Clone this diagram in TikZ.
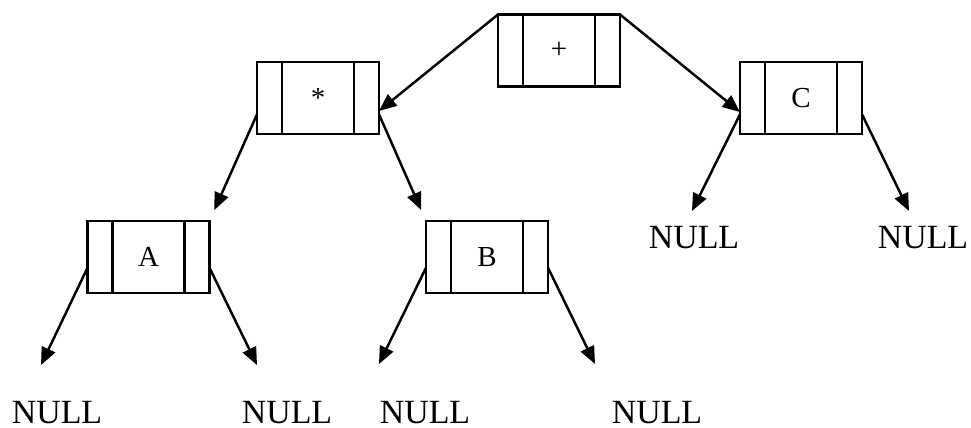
\documentclass[tikz,border=0pt]{standalone}
\usepackage{fontspec}
\setmainfont{Liberation Serif}
\usetikzlibrary{arrows.meta,calc}

\begin{document}
\begin{tikzpicture}[x=0.02cm, y=-0.02cm,
  cell/.style={rectangle, draw, line width=1.2pt, minimum width=2.44cm, minimum height=1.44cm, inner sep=0pt, outer sep=0pt, font=\fontsize{16.5}{18}\selectfont},
  ptr/.style={line width=1.4pt, -{Triangle[length=0.35cm, width=0.29cm]}},
  nil/.style={anchor=base, inner sep=0pt, font=\fontsize{19.3}{22}\selectfont}]
\useasboundingbox (0,0) rectangle (971,427);

% tree nodes
\node[cell] (add) at (559,50.5) {+};
\node[cell] (mul) at (318,98) {*};
\node[cell] (c) at (801,98) {C};
\node[cell] (a) at (148.5,257) {A};
\node[cell] (b) at (487,257) {B};

% left / right pointer fields
\foreach \n in {add,mul,c,a,b} {
  \draw[line width=1.2pt] ($(\n.north west)!0.205!(\n.north east)$) -- ($(\n.south west)!0.205!(\n.south east)$);
  \draw[line width=1.2pt] ($(\n.north east)!0.205!(\n.north west)$) -- ($(\n.south east)!0.205!(\n.south west)$);
}

% empty children
\node[nil] (cl) at (694,248) {NULL};
\node[nil] (cr) at (923,248) {NULL};
\node[nil] (al) at (57,423) {NULL};
\node[nil] (ar) at (287,423) {NULL};
\node[nil] (bl) at (425,423) {NULL};
\node[nil] (br) at (657,423) {NULL};

\coordinate (cl-tip) at (692,211);
\coordinate (cr-tip) at (909,211);
\coordinate (al-tip) at (41,365);
\coordinate (ar-tip) at (257,365);
\coordinate (bl-tip) at (379,364);
\coordinate (br-tip) at (595,364);

% pointers
\draw[ptr] (add.north west) -- (mul.-12);
\draw[ptr] (add.north east) -- (c.193);
\draw[ptr, shorten >=0.24cm] (mul.195) -- (a.north east);
\draw[ptr, shorten >=0.24cm] (mul.-15) -- (b.north west);
\draw[ptr] (a.190) -- (al-tip);
\draw[ptr] (a.-10) -- (ar-tip);
\draw[ptr] (b.190) -- (bl-tip);
\draw[ptr] (b.-10) -- (br-tip);
\draw[ptr] (c.195) -- (cl-tip);
\draw[ptr] (c.-15) -- (cr-tip);
\end{tikzpicture}
\end{document}
